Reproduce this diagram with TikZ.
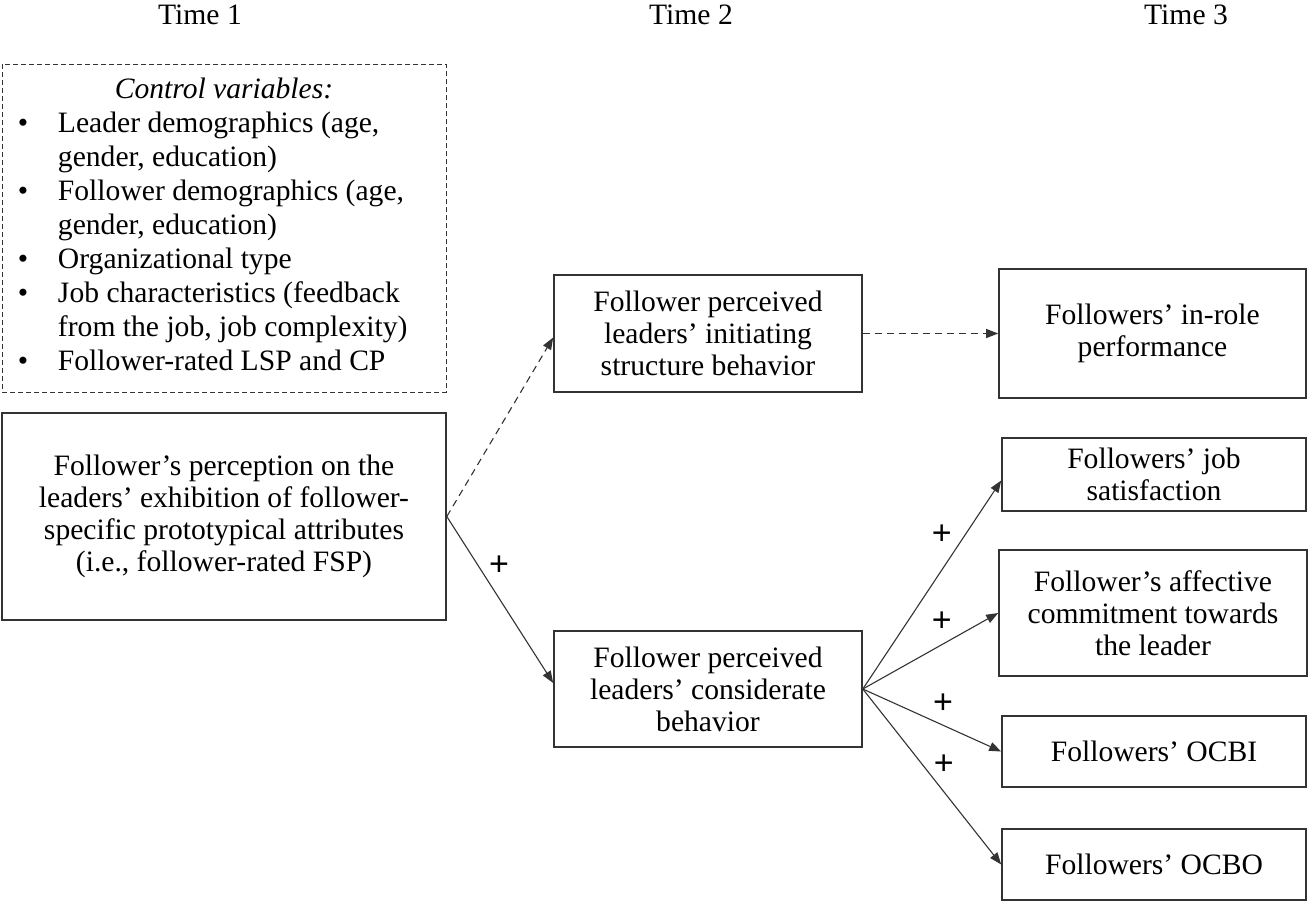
\documentclass[tikz,border=0pt]{standalone}
\usepackage{fontspec}
\setmainfont{Liberation Serif}
\newfontfamily\plusfont{Liberation Sans}
\usetikzlibrary{arrows.meta}
\tikzset{
  stage box/.style={
    draw=black!80, line width=0.8pt,  % box border
    align=center, inner sep=1pt,
    font=\fontsize{14.8}{16}\selectfont
  },
  flow/.style={
    -{Triangle[length=6pt,width=4.5pt]}, % arrow tip
    line width=0.55pt, draw=black!80
  },
  flow dashed/.style={flow, dash pattern=on 3.5pt off 2.5pt},
  plus sign/.style={font=\plusfont\fontsize{17}{18}\selectfont, inner sep=0pt}
}

\begin{document}
\begin{tikzpicture}[x=0.5pt, y=-0.5pt]
    \useasboundingbox (0,0) rectangle (1308,901);

    % Time points
    \foreach \t/\xt in {1/200, 2/691, 3/1186} {
    	\node[font=\fontsize{14.8}{16}\selectfont] (time\t) at (\xt,15) {Time \t};
    }

    % Time 1
    \node[draw=black!80, line width=0.5pt, dash pattern=on 2.5pt off 1.5pt,
          minimum width=222pt, minimum height=164pt, inner sep=0pt,
          font=\fontsize{14.8}{17}\selectfont] (ctrl) at (224,228) {%
      \begin{tabular}{@{}p{20pt}@{}p{186pt}@{}}
        \multicolumn{2}{c}{\textit{Control variables:}}\\
        \textbullet & Leader demographics (age,\\
                    & gender, education)\\
        \textbullet & Follower demographics (age,\\
                    & gender, education)\\
        \textbullet & Organizational type\\
        \textbullet & Job characteristics (feedback\\
                    & from the job, job complexity)\\
        \textbullet & Follower-rated LSP and CP
      \end{tabular}};
    \node[stage box, minimum width=222pt, minimum height=103.5pt] (fsp) at (224,516.5)
      {Follower's perception on the\\ leaders' exhibition of follower-\\ specific prototypical attributes\\ (i.e., follower-rated FSP)};

    % Time 2
    \node[stage box, minimum width=154pt, minimum height=58.5pt] (init) at (708,333.5)
      {Follower perceived\\ leaders' initiating\\ structure behavior};
    \node[stage box, minimum width=154pt, minimum height=58pt] (cons) at (708,689)
      {Follower perceived\\ leaders' considerate\\ behavior};

    % Time 3
    \node[stage box, minimum width=153.5pt, minimum height=64.5pt] (inrole) at (1152.5,333.5)
      {Followers' in-role\\ performance};
    \node[stage box, minimum width=152pt, minimum height=36.5pt] (jobsat) at (1154,474.5)
      {Followers' job\\ satisfaction};
    \node[stage box, minimum width=154pt, minimum height=63pt] (affect) at (1153,613)
      {Follower's affective\\ commitment towards\\ the leader};
    \node[stage box, minimum width=152pt, minimum height=35.5pt] (ocbi) at (1154,751.5)
      {Followers' OCBI};
    \node[stage box, minimum width=152pt, minimum height=35.5pt] (ocbo) at (1154,864.5)
      {Followers' OCBO};

    % Paths
    \draw[flow dashed] (fsp.east) -- ([yshift=-2pt]init.west);
    \draw[flow dashed] (init.east) -- (inrole.west);
    \draw[flow] (fsp.east) -- node[plus sign, pos=0.49, yshift=16pt] {+} ([yshift=3pt]cons.west);
    \draw[flow] (cons.east) -- node[plus sign, pos=0.57, yshift=17.5pt] {+} ([yshift=-3pt]jobsat.west);
    \draw[flow] (cons.east) -- node[plus sign, pos=0.584, yshift=11.3pt] {+} (affect.west);
    \draw[flow] (cons.east) -- node[plus sign, pos=0.579, yshift=11pt] {+} (ocbi.west);
    \draw[flow] (cons.east) -- node[plus sign, pos=0.586, yshift=13.4pt] {+} (ocbo.west);
\end{tikzpicture}
\end{document}
